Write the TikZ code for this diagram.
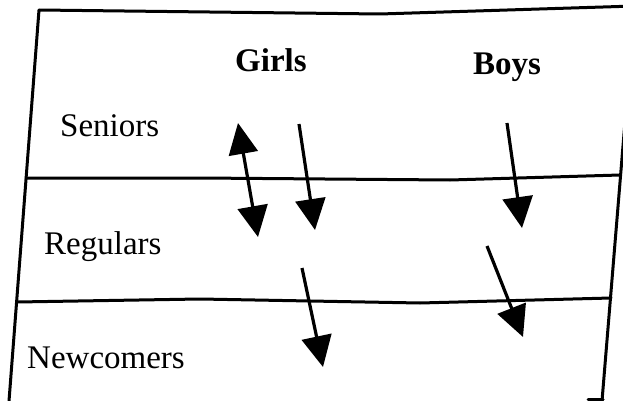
\documentclass[tikz,border=0pt]{standalone}
\usepackage{fontspec}
\setmainfont{Liberation Serif}
\usetikzlibrary{arrows.meta}
\tikzset{
  frameline/.style={line width=3pt, line cap=round, line join=round},
  label/.style={anchor=base west, inner sep=0pt, font=\fontsize{33}{36}\selectfont},
  head/.style={anchor=base west, inner sep=0pt, font=\fontsize{33}{36}\selectfont\bfseries},
  move/.style={line width=3.2pt, -{Triangle[length=31pt,width=30pt]}},
  swap/.style={line width=3.2pt, {Triangle[length=31pt,width=29pt]}-{Triangle[length=31pt,width=30pt]}}
}
\begin{document}
\begin{tikzpicture}[x=1pt,y=-1pt]
  \useasboundingbox (0,0) rectangle (623,401);
  \clip (0,0) rectangle (623,401);
  \fill[white] (0,0) rectangle (623,401);

  % outer frame
  \draw[frameline] (9,401) -- (39,10) -- (380,14) -- (635,6);
  \draw[frameline] (635,0) -- (602,401);
  \draw[frameline] (588,399.5) -- (603,399.5);

  % row dividers
  \draw[frameline] (26,178) -- (200,178) -- (450,180) -- (620,175);
  \draw[frameline] (17,302) -- (200,299) -- (420,303) -- (611,298);

  % column headings
  \node[head] (girls) at (235,72) {Girls};
  \node[head] (boys)  at (473,75) {Boys};

  % row labels
  \node[label] (seniors)   at (60,136) {Seniors};
  \node[label] (regulars)  at (44,254) {Regulars};
  \node[label] (newcomers) at (27,368) {Newcomers};

  % arrow end points
  \coordinate (g1a) at (238,123);
  \coordinate (g1b) at (258,237);
  \coordinate (g2a) at (299,124);
  \coordinate (g2b) at (315,230);
  \coordinate (g3a) at (302,268);
  \coordinate (g3b) at (323,367);
  \coordinate (b1a) at (507,123);
  \coordinate (b1b) at (522,228);
  \coordinate (b2a) at (487,246);
  \coordinate (b2b) at (523,337);

  % movements between rows
  \draw[swap] (g1a) -- (g1b);
  \draw[move] (g2a) -- (g2b);
  \draw[move] (g3a) -- (g3b);
  \draw[move] (b1a) -- (b1b);
  \draw[move] (b2a) -- (b2b);
\end{tikzpicture}
\end{document}
